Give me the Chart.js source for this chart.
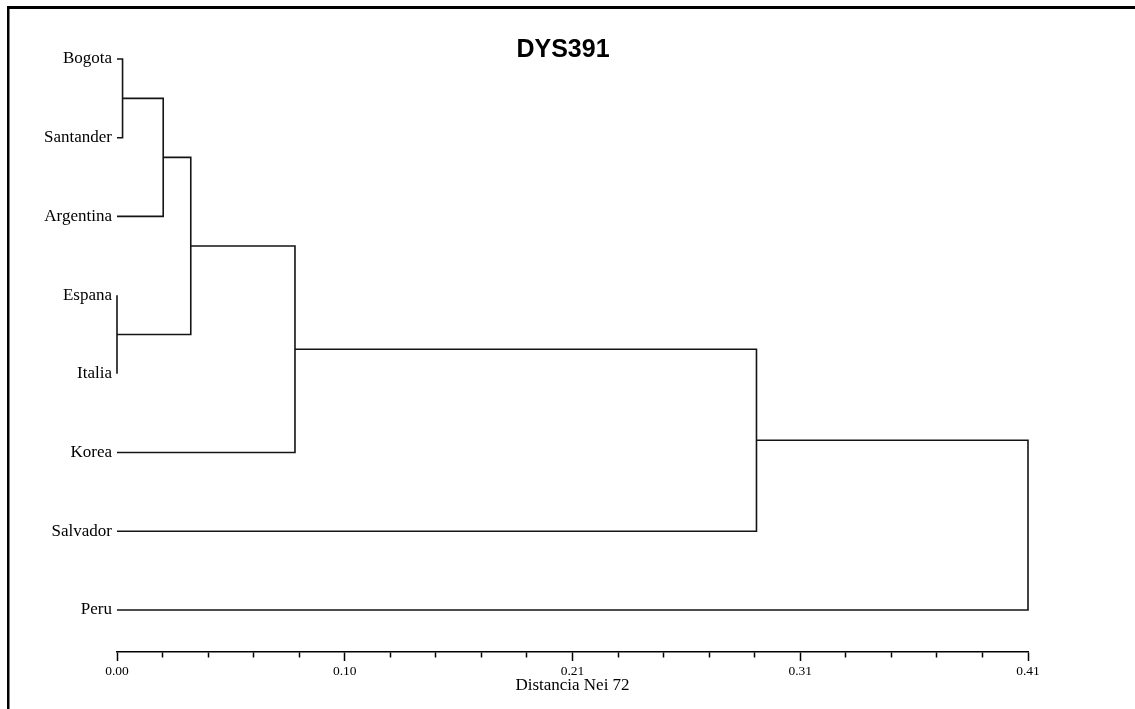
<!DOCTYPE html>
<html>
<head>
<meta charset="utf-8">
<script src="https://cdn.jsdelivr.net/npm/chart.js@4.4.1/dist/chart.umd.min.js"></script>
<style>
  html, body { margin: 0; padding: 0; background: #fff; overflow: hidden; }
  #c { display: block; }
</style>
</head>
<body>
<canvas id="c" width="1135" height="709"></canvas>
<script>
// ---- data ----
const chartTitle = 'DYS391';
const axisTitle = 'Distancia Nei 72';
const leaves = ['Bogota', 'Santander', 'Argentina', 'Espana', 'Italia', 'Korea', 'Salvador', 'Peru'];
// merge nodes are numbered after the leaves (8, 9, ...)
const mergeLeft  = [0, 8, 3, 9, 11, 12, 13];
const mergeRight = [1, 2, 4, 10, 5, 6, 7];
const mergeDistance = [0.0025, 0.0208, 0.0, 0.0332, 0.0801, 0.2878, 0.41];
const xMax = 0.41;
const xMajorLabels = ['0.00', '0.10', '0.21', '0.31', '0.41'];
const xMinorPerMajor = 5;

// ---- build dendrogram segments ----
const nodeY = leaves.map((_, i) => i);
const nodeH = leaves.map(() => 0);
const datasets = [];
mergeDistance.forEach((d, k) => {
  const a = mergeLeft[k], b = mergeRight[k];
  datasets.push({
    data: [
      {x: nodeH[a], y: nodeY[a]},
      {x: d, y: nodeY[a]},
      {x: d, y: nodeY[b]},
      {x: nodeH[b], y: nodeY[b]}
    ],
    showLine: true,
    borderColor: '#141414',
    borderWidth: 1.6,
    pointRadius: 0,
    pointHoverRadius: 0,
    tension: 0,
    fill: false,
    clip: false,
    borderJoinStyle: 'miter',
    borderCapStyle: 'butt'
  });
  nodeY.push((nodeY[a] + nodeY[b]) / 2);
  nodeH.push(d);
});

const nTicks = (xMajorLabels.length - 1) * xMinorPerMajor;

const framePlugin = {
  id: 'frame',
  beforeDraw(chart) {
    const ctx = chart.ctx;
    ctx.save();
    ctx.fillStyle = '#fff';
    ctx.fillRect(0, 0, chart.width, chart.height);
    ctx.fillStyle = '#000';
    ctx.fillRect(7, 6, chart.width - 7, 3);
    ctx.fillRect(7, 6, 2.5, chart.height - 6);
    ctx.restore();
  }
};

new Chart(document.getElementById('c'), {
  type: 'scatter',
  data: { datasets },
  plugins: [framePlugin],
  options: {
    responsive: false,
    devicePixelRatio: 1,
    animation: false,
    events: [],
    layout: { padding: { left: 0, right: 9, top: 0, bottom: 0 } },
    plugins: {
      legend: { display: false },
      tooltip: { enabled: false },
      title: {
        display: true,
        text: chartTitle,
        color: '#000',
        font: { family: '"Liberation Sans", Arial, sans-serif', size: 25, weight: 'bold', lineHeight: 1.2 },
        padding: { top: 35, bottom: -6 }
      }
    },
    scales: {
      x: {
        type: 'linear',
        position: 'bottom',
        min: 0,
        max: xMax,
        afterBuildTicks(s) {
          const t = [];
          for (let i = 0; i <= nTicks; i++) t.push({ value: xMax * i / nTicks });
          s.ticks = t;
        },
        afterFit(s) { s.height = 57; },
        border: { display: true, color: '#000', width: 1.5 },
        grid: {
          display: true,
          drawOnChartArea: false,
          drawTicks: true,
          tickLength: 9,
          tickColor: '#000',
          tickWidth: 1.5,
          tickBorderDash: (ctx) => (ctx.index % xMinorPerMajor === 0 ? [] : [5, 30])
        },
        ticks: {
          autoSkip: false,
          maxRotation: 0,
          padding: 2,
          color: '#000',
          font: { family: '"Liberation Serif", "Times New Roman", serif', size: 13.5 },
          callback: (v, i) => (i % xMinorPerMajor === 0 ? xMajorLabels[i / xMinorPerMajor] : '')
        },
        title: {
          display: true,
          text: axisTitle,
          color: '#000',
          font: { family: '"Liberation Serif", "Times New Roman", serif', size: 17, lineHeight: 1.2 },
          padding: { top: 0, bottom: 13 }
        }
      },
      y: {
        type: 'linear',
        position: 'left',
        reverse: true,
        min: 0,
        max: 7.534,
        afterBuildTicks(s) { s.ticks = leaves.map((_, i) => ({ value: i })); },
        afterFit(s) { s.width = 117; },
        border: { display: false },
        grid: { display: false, drawTicks: false },
        ticks: {
          padding: 5,
          color: '#000',
          font: { family: '"Liberation Serif", "Times New Roman", serif', size: 17 },
          callback: (v) => leaves[v]
        }
      },
      yR: {
        type: 'linear',
        position: 'right',
        display: true,
        afterFit(s) { s.width = 98; },
        border: { display: false },
        grid: { display: false, drawTicks: false },
        ticks: { display: false }
      }
    }
  }
});
</script>
</body>
</html>
